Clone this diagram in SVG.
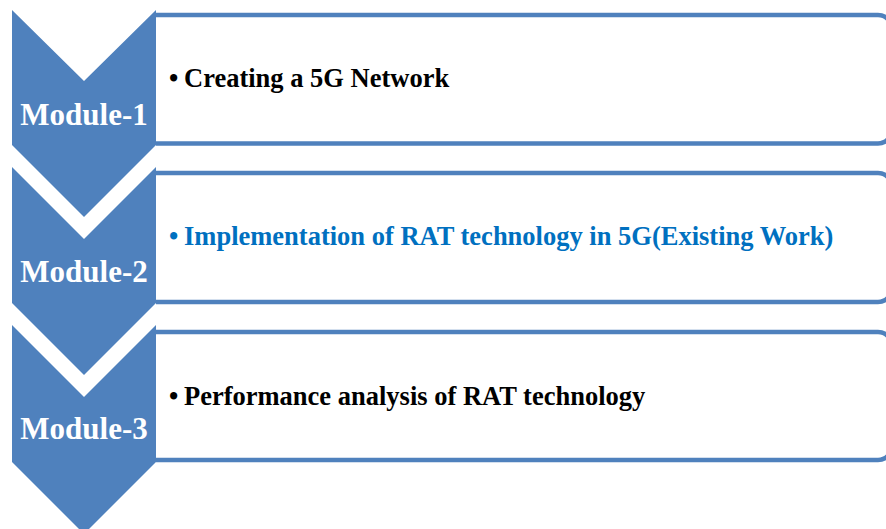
<svg xmlns="http://www.w3.org/2000/svg" width="886" height="529" viewBox="0 0 886 529">
<style>
.box{fill:#ffffff;stroke:#4F81BD;stroke-width:4.5}
.chev{fill:#4F81BD;stroke:none}
.mod{font-family:"Liberation Serif","Times New Roman",serif;font-weight:bold;font-size:31px;fill:#ffffff;text-anchor:middle}
.item{font-family:"Liberation Serif","Times New Roman",serif;font-weight:bold;font-size:26.5px;fill:#000000}
.blue{fill:#0070C0}
</style>
<rect width="886" height="529" fill="#ffffff"/>
<g id="module1">
<path class="box" d="M156,15 H878 A14,14 0 0 1 892,29 V129.5 A14,14 0 0 1 878,143.5 H156"/>
<polygon class="chev" points="12,10 84,81 156,10 156,145 84,217 12,145"/>
<text class="mod" x="84" y="125">Module-1</text>
<text class="item" x="169" y="87">•</text>
<text class="item" x="184" y="87">Creating a 5G Network</text>
</g>
<g id="module2">
<path class="box" d="M156,173 H878 A14,14 0 0 1 892,187 V288 A14,14 0 0 1 878,302 H156"/>
<polygon class="chev" points="12,167 84,239 156,167 156,303 84,375 12,303"/>
<text class="mod" x="84" y="282">Module-2</text>
<text class="item blue" x="169" y="245">•</text>
<text class="item blue" x="184" y="245">Implementation of RAT technology in 5G(Existing Work)</text>
</g>
<g id="module3">
<path class="box" d="M156,332 H878 A14,14 0 0 1 892,346 V446 A14,14 0 0 1 878,460 H156"/>
<polygon class="chev" points="12,325 84,397 156,325 156,462 84,534 12,462"/>
<text class="mod" x="84" y="439">Module-3</text>
<text class="item" x="169" y="405">•</text>
<text class="item" x="184" y="405">Performance analysis of RAT technology</text>
</g>
<g id="connectors"></g>
</svg>
